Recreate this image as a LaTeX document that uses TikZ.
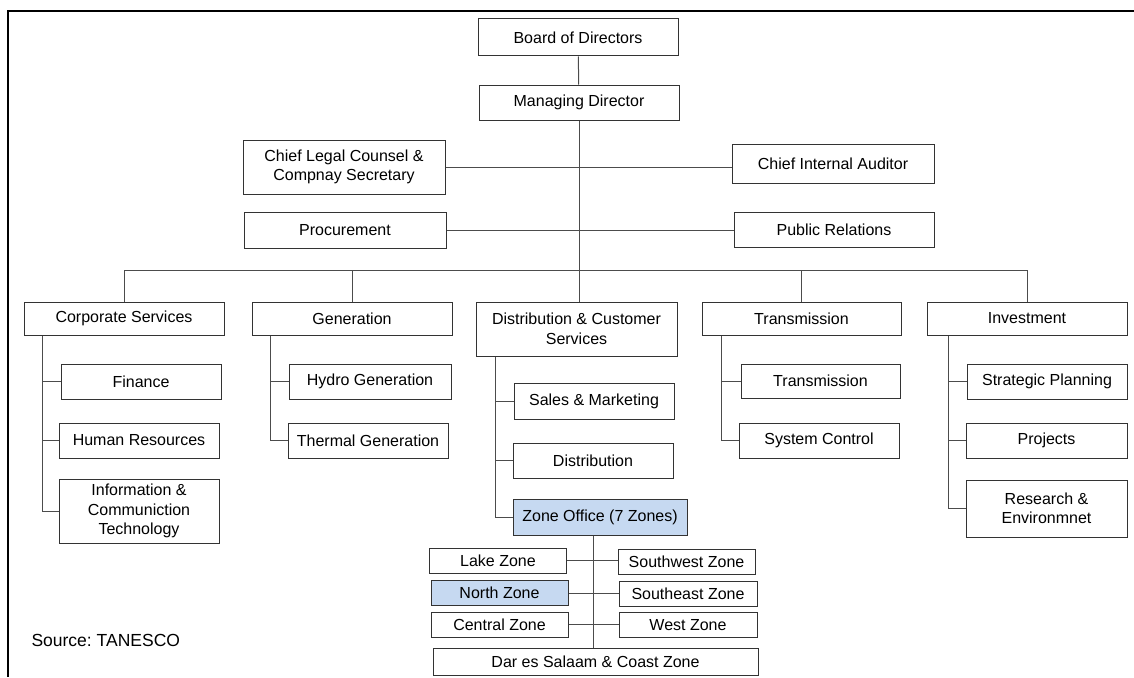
\documentclass[tikz,border=0pt]{standalone}
\usepackage{fontspec}
\setmainfont{Liberation Sans}
\usetikzlibrary{calc}
\definecolor{zoneblue}{RGB}{198,217,241}
\frenchspacing

\begin{document}
\begin{tikzpicture}[x=1pt, y=-1pt,
  box/.style={draw=black!80, line width=1pt, minimum width=200pt, minimum height=35pt, align=center, inner sep=2pt, font=\fontsize{16}{19.5}\selectfont},
  sub/.style={box, minimum width=160pt},
  zonebox/.style={box, minimum width=137pt, minimum height=25pt},
  hl/.style={fill=zoneblue},
  link/.style={draw=black!70, line width=1pt}
]
\useasboundingbox (0,0) rectangle (1134,677);
% Frame (top and left edges only)
\draw[line width=2pt] (1134,11) -- (8,11) -- (8,677);

% Top management
\node[box, minimum height=37pt] (bod) at (578,37.5) {Board of Directors};
\node[box] (md) at (579,102.5) {Managing Director};
\node[box, minimum width=202pt, minimum height=54pt] (legal) at (344,167) {Chief Legal Counsel \&\\Compnay Secretary};
\node[box, minimum width=202pt, minimum height=39pt] (audit) at (833,163.5) {Chief Internal Auditor};
\node[box, minimum width=202pt, minimum height=36pt] (proc) at (345,230) {Procurement};
\node[box] (pr) at (834,229.5) {Public Relations};

% Directorates
\node[box, minimum height=33pt] (corp) at (124,318.5) {Corporate Services};
\node[box, minimum height=33pt] (gen) at (352,318.5) {Generation};
\node[box, minimum width=201pt, minimum height=54pt] (dist) at (576.5,329) {Distribution \& Customer\\Services};
\node[box, minimum width=199pt, minimum height=33pt] (trans) at (801.5,318.5) {Transmission};
\node[box, minimum height=33pt] (inv) at (1027,318.5) {Investment};

% Sections
\node[sub] (fin) at (141,381.5) {Finance};
\node[sub] (hr) at (139,440.5) {Human Resources};
\node[sub, minimum height=64pt] (ict) at (139,511) {Information \&\\Communiction\\Technology};
\node[sub, minimum width=162pt] (hydro) at (370,381.5) {Hydro Generation};
\node[sub] (thermal) at (368,440.5) {Thermal Generation};
\node[sub, minimum height=36pt] (sales) at (594,401) {Sales \& Marketing};
\node[sub] (distrib) at (593,460.5) {Distribution};
\node[sub, hl, minimum width=174pt, minimum height=36pt] (zone) at (600,517) {Zone Office (7 Zones)};
\node[sub, minimum width=159pt, minimum height=34pt] (transm) at (820.5,381) {Transmission};
\node[sub] (sysctl) at (819,440.5) {System Control};
\node[sub] (strat) at (1047,381.5) {Strategic Planning};
\node[sub, minimum width=161pt] (proj) at (1046.5,440.5) {Projects};
\node[sub, minimum width=161pt, minimum height=57pt] (resenv) at (1046.5,508.5) {Research \&\\Environmnet};

% Zones
\node[zonebox] (lake) at (498,560.5) {Lake Zone};
\node[zonebox] (swz) at (686.5,561.5) {Southwest Zone};
\node[zonebox, hl] (north) at (499.5,593) {North Zone};
\node[zonebox, minimum width=138pt] (sez) at (688,594) {Southeast Zone};
\node[zonebox] (central) at (499.5,624.5) {Central Zone};
\node[zonebox, minimum width=138pt] (west) at (688,625) {West Zone};
\node[zonebox, minimum width=325pt, minimum height=27pt] (dar) at (595.5,661.5) {Dar es Salaam \& Coast Zone};

\node[anchor=west, font=\fontsize{17.5}{21}\selectfont] (src) at (28,640) {Source: TANESCO};

% Links
\draw[link] (bod) -- (md);
\draw[link] (md.south) -- (md.south |- dist.north);
\draw[link] (legal.east) -- (legal.east -| audit.west);
\draw[link] (proc.east) -- (proc.east -| pr.west);
\coordinate (bus) at (579,270);
\draw[link] (corp.north |- bus) -- (inv.north |- bus);
\foreach \d in {corp,gen,trans,inv}{\draw[link] (\d.north) -- (\d.north |- bus);}
\foreach \p/\c/\o in {corp/fin/19, corp/hr/19, corp/ict/19, gen/hydro/19, gen/thermal/19,
  dist/sales/20, dist/distrib/20, dist/zone/20, trans/transm/20, trans/sysctl/20,
  inv/strat/22, inv/proj/22, inv/resenv/22}{\draw[link] (\c.west) -| ($(\p.south west)+(\o,0)$);}
\coordinate (zspine) at (593,0);
\draw[link] (zone.south -| zspine) -- (dar.north -| zspine);
\foreach \l/\r in {lake/swz, north/sez, central/west}{\draw[link] (\l.east) -- (\l.east -| \r.west);}
\end{tikzpicture}
\end{document}
